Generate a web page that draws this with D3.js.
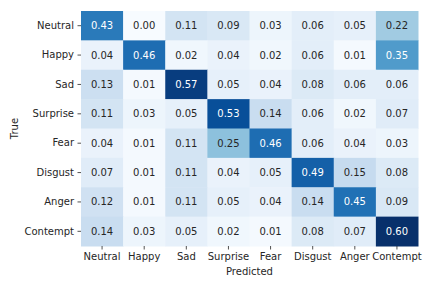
<!DOCTYPE html>
<html><head><meta charset="utf-8">
<script src="https://cdn.jsdelivr.net/npm/d3@7"></script>
<style>body{margin:0;background:#fff}svg{display:block}text{font-family:"DejaVu Sans",sans-serif;}</style>
</head><body>
<svg id="c" width="432" height="288"></svg>
<script>
const labels = ["Neutral","Happy","Sad","Surprise","Fear","Disgust","Anger","Contempt"];
const row0 = [0.43,0.00,0.11,0.09,0.03,0.06,0.05,0.22];
const row1 = [0.04,0.46,0.02,0.04,0.02,0.06,0.01,0.35];
const row2 = [0.13,0.01,0.57,0.05,0.04,0.08,0.06,0.06];
const row3 = [0.11,0.03,0.05,0.53,0.14,0.06,0.02,0.07];
const row4 = [0.04,0.01,0.11,0.25,0.46,0.06,0.04,0.03];
const row5 = [0.07,0.01,0.11,0.04,0.05,0.49,0.15,0.08];
const row6 = [0.12,0.01,0.11,0.05,0.04,0.14,0.45,0.09];
const row7 = [0.14,0.03,0.05,0.02,0.01,0.08,0.07,0.60];
const matrix = [row0,row1,row2,row3,row4,row5,row6,row7];

const blues = ["#f7fbff","#deebf7","#c6dbef","#9ecae1","#6baed6","#4292c6","#2171b5","#08519c","#08306b"];
const vmin = d3.min(matrix.flat()), vmax = d3.max(matrix.flat());
const color = d3.scaleLinear()
  .domain(blues.map((_, i) => vmin + (vmax - vmin) * i / (blues.length - 1)))
  .range(blues).interpolate(d3.interpolateRgb).clamp(true);

const L = 81, R = 418, T = 11, B = 246;
const svg = d3.select("#c");
const x = d3.scaleBand().domain(labels).range([L, R]);
const y = d3.scaleBand().domain(labels).range([T, B]);

function lum(c) {
  const rgb = d3.rgb(c);
  const f = v => { v /= 255; return v <= 0.03928 ? v / 12.92 : Math.pow((v + 0.055) / 1.055, 2.4); };
  return 0.2126 * f(rgb.r) + 0.7152 * f(rgb.g) + 0.0722 * f(rgb.b);
}

const cells = [];
matrix.forEach((row, i) => row.forEach((v, j) => cells.push({r: labels[i], c: labels[j], v})));

svg.append("g").selectAll("rect").data(cells).join("rect")
  .attr("x", d => x(d.c)).attr("y", d => y(d.r))
  .attr("width", x.bandwidth() + 0.5).attr("height", y.bandwidth() + 0.5)
  .attr("fill", d => color(d.v));

svg.append("g").selectAll("text").data(cells).join("text")
  .attr("x", d => x(d.c) + x.bandwidth() / 2)
  .attr("y", d => y(d.r) + y.bandwidth() / 2)
  .attr("text-anchor", "middle").attr("dominant-baseline", "central")
  .attr("font-size", 10)
  .attr("fill", d => lum(color(d.v)) > 0.408 ? "#262626" : "#ffffff")
  .text(d => d.v.toFixed(2));

const xAxis = d3.axisBottom(x).tickSize(3.5).tickPadding(3.5);
const gx = svg.append("g").attr("transform", `translate(0,${B})`).call(xAxis);
const yAxis = d3.axisLeft(y).tickSize(3.5).tickPadding(3.5);
const gy = svg.append("g").attr("transform", `translate(${L},0)`).call(yAxis);
[gx, gy].forEach(g => {
  g.select(".domain").remove();
  g.selectAll("line").attr("stroke", "#262626").attr("stroke-width", 0.8);
  g.selectAll("text").attr("fill", "#262626").attr("font-size", 10).attr("font-family", "DejaVu Sans, sans-serif");
});

svg.append("text").attr("x", (L + R) / 2).attr("y", 271)
  .attr("text-anchor", "middle").attr("dominant-baseline", "central")
  .attr("font-size", 10).attr("fill", "#262626").text("Predicted");
svg.append("text").attr("transform", `translate(14,${(T + B) / 2}) rotate(-90)`)
  .attr("text-anchor", "middle").attr("dominant-baseline", "central")
  .attr("font-size", 10).attr("fill", "#262626").text("True");
</script>
</body></html>
